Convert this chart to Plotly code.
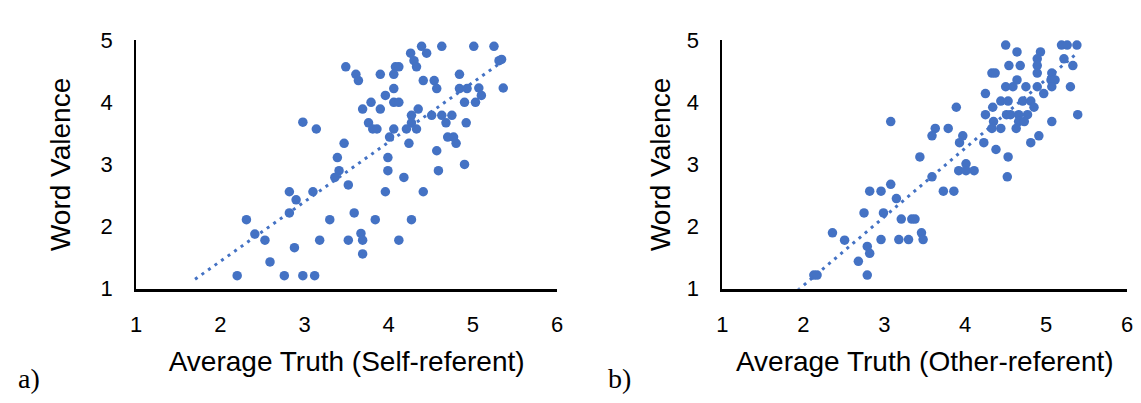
import plotly.graph_objects as go

# Panel a: self-referent ratings
self_truth = [4.39, 4.63, 5.01, 5.25, 4.26, 4.45, 4.30, 5.31, 5.34,
              3.49, 4.08, 4.12, 4.33, 3.61, 3.64, 3.90, 4.06, 4.84,
              4.41, 4.54, 4.57, 4.06, 4.84, 4.93, 5.07, 5.10, 5.36,
              3.96, 3.79, 3.69, 3.90, 4.06, 4.12, 4.35, 4.90, 5.03,
              4.27, 4.51, 4.63, 4.75, 4.68, 4.27, 3.76,
              3.81, 3.86, 4.06, 4.21, 4.33, 4.92,
              4.01, 4.70, 4.77, 4.80, 4.24, 3.47,
              4.57, 3.99, 4.90, 3.99, 4.59, 4.18, 3.52, 3.96, 4.41,
              3.59, 3.84, 4.27, 3.67, 3.52, 3.69, 4.12, 3.69,
              2.98, 3.14, 3.39, 3.41, 3.36, 2.82, 3.10, 2.90, 2.82, 3.30,
              2.31, 2.41, 2.53, 2.88, 3.18, 2.59, 2.20, 2.76, 2.98, 3.12]
self_valence = [4.90, 4.90, 4.90, 4.90, 4.79, 4.79, 4.67, 4.67, 4.69,
                4.57, 4.57, 4.57, 4.57, 4.45, 4.35, 4.45, 4.45, 4.45,
                4.35, 4.35, 4.22, 4.22, 4.22, 4.22, 4.23, 4.11, 4.23,
                4.11, 4.00, 3.89, 3.89, 4.00, 4.00, 3.89, 4.00, 4.00,
                3.79, 3.79, 3.79, 3.79, 3.67, 3.67, 3.67,
                3.57, 3.57, 3.57, 3.57, 3.57, 3.67,
                3.44, 3.44, 3.44, 3.34, 3.34, 3.34,
                3.22, 3.11, 3.00, 2.90, 2.90, 2.79, 2.67, 2.56, 2.56,
                2.22, 2.11, 2.11, 1.89, 1.78, 1.78, 1.78, 1.56,
                3.68, 3.57, 3.11, 2.90, 2.79, 2.56, 2.56, 2.43, 2.22, 2.11,
                2.11, 1.88, 1.78, 1.66, 1.78, 1.43, 1.21, 1.21, 1.21, 1.21]

# Panel b: other-referent ratings
other_truth = [3.08, 3.63, 3.59, 3.44, 3.59, 3.08, 2.82, 2.96, 3.15, 2.75,
               2.99, 3.21, 3.34, 3.38, 2.36, 2.51, 2.79, 2.82, 2.96, 3.18,
               3.30, 3.46, 3.48, 2.68, 2.13, 2.17, 2.79,
               4.50, 5.19, 5.26, 5.38, 4.64, 4.93, 4.89, 5.22, 4.54, 4.68,
               4.89, 5.33, 4.33, 4.37, 4.89, 5.07, 4.64, 5.06, 5.11,
               4.50, 4.59, 4.75, 4.89, 5.07, 5.30, 4.97, 4.25,
               4.44, 4.53, 4.71, 4.81, 4.85, 4.34, 3.89,
               4.25, 4.51, 4.56, 4.66, 4.77, 5.39, 4.35, 4.66, 4.73, 5.07,
               4.33, 4.44, 4.63, 3.79, 3.97, 4.91, 3.93, 4.23, 4.81,
               4.38, 4.53, 4.01, 3.92, 4.01, 4.11, 4.52, 3.73, 3.86]
other_valence = [3.69, 3.58, 3.46, 3.12, 2.80, 2.68, 2.57, 2.57, 2.45, 2.22,
                 2.22, 2.12, 2.12, 2.12, 1.90, 1.78, 1.68, 1.57, 1.79, 1.79,
                 1.79, 1.90, 1.79, 1.44, 1.22, 1.22, 1.22,
                 4.92, 4.92, 4.92, 4.92, 4.81, 4.81, 4.70, 4.70, 4.59, 4.59,
                 4.59, 4.59, 4.47, 4.47, 4.47, 4.47, 4.36, 4.36, 4.36,
                 4.25, 4.25, 4.25, 4.25, 4.25, 4.25, 4.14, 4.14,
                 4.02, 4.02, 4.02, 4.02, 3.92, 3.92, 3.92,
                 3.80, 3.80, 3.80, 3.80, 3.80, 3.80, 3.69, 3.69, 3.69, 3.69,
                 3.58, 3.58, 3.58, 3.58, 3.46, 3.46, 3.35, 3.35, 3.35,
                 3.24, 3.12, 3.01, 2.90, 2.90, 2.90, 2.80, 2.57, 2.57]

# Linear trendline parameters (slope, intercept) and backward forecast
trend_self = [0.96, -0.48]
trend_other = [1.106, -1.162]
forecast_back = 0.5

x_ticks = [1, 2, 3, 4, 5, 6]
y_ticks = [1, 2, 3, 4, 5]
x_titles = ["Average Truth (Self-referent)", "Average Truth (Other-referent)"]
y_title = "Word Valence"
panel_tags = ["a)", "b)"]

BLUE = "#4472C4"
W, H = 1141, 403

fig = go.Figure()

panels = [
    (self_truth, self_valence, trend_self, "x", "y"),
    (other_truth, other_valence, trend_other, "x2", "y2"),
]
for xs, ys, (m, b), xa, ya in panels:
    fig.add_trace(go.Scatter(
        x=xs, y=ys, mode="markers", xaxis=xa, yaxis=ya,
        marker=dict(color=BLUE, size=9.5, line=dict(width=0)),
        cliponaxis=False, showlegend=False, hoverinfo="skip"))
    x0 = min(xs) - forecast_back
    x1 = max(xs)
    fig.add_trace(go.Scatter(
        x=[x0, x1], y=[m * x0 + b, m * x1 + b], mode="lines",
        xaxis=xa, yaxis=ya,
        line=dict(color=BLUE, width=3, dash="3px,5px"),
        showlegend=False, hoverinfo="skip"))

tick_font = dict(family="Liberation Sans, Arial, sans-serif", size=22, color="black")
title_font = dict(family="Liberation Sans, Arial, sans-serif", size=28, color="black")

def xaxis_style(domain, anchor, title):
    return dict(domain=domain, anchor=anchor, range=[1, 6], tickvals=x_ticks,
                showgrid=False, zeroline=False, showline=True,
                linecolor="black", linewidth=3, ticks="", tickfont=tick_font,
                ticklabelstandoff=14,
                title=dict(text=title, font=title_font, standoff=16))

def yaxis_style(domain, anchor, standoff):
    return dict(domain=domain, anchor=anchor, range=[1, 5], tickvals=y_ticks,
                showgrid=False, zeroline=False, showline=True,
                linecolor="black", linewidth=2, ticks="", tickfont=tick_font,
                ticklabelstandoff=17,
                title=dict(text=y_title, font=title_font, standoff=standoff))

ydom = [108 / H, 373 / H]
fig.update_layout(
    width=W, height=H,
    margin=dict(l=0, r=0, t=0, b=0),
    paper_bgcolor="white", plot_bgcolor="white",
    xaxis=xaxis_style([131.5 / W, 557 / W], "y", x_titles[0]),
    yaxis=yaxis_style(ydom, "x", 22),
    xaxis2=xaxis_style([724 / W, 1133 / W], "y2", x_titles[1]),
    yaxis2=yaxis_style(ydom, "x2", 8),
)

tag_font = dict(family="Liberation Serif, Times New Roman, serif", size=28, color="black")
for tag, xpos in zip(panel_tags, [10 / W, 606 / W]):
    fig.add_annotation(text=tag, xref="paper", yref="paper", x=xpos, y=0.0,
                       xanchor="left", yanchor="bottom", showarrow=False,
                       yshift=-6, font=tag_font)

fig.write_html("out.html")
